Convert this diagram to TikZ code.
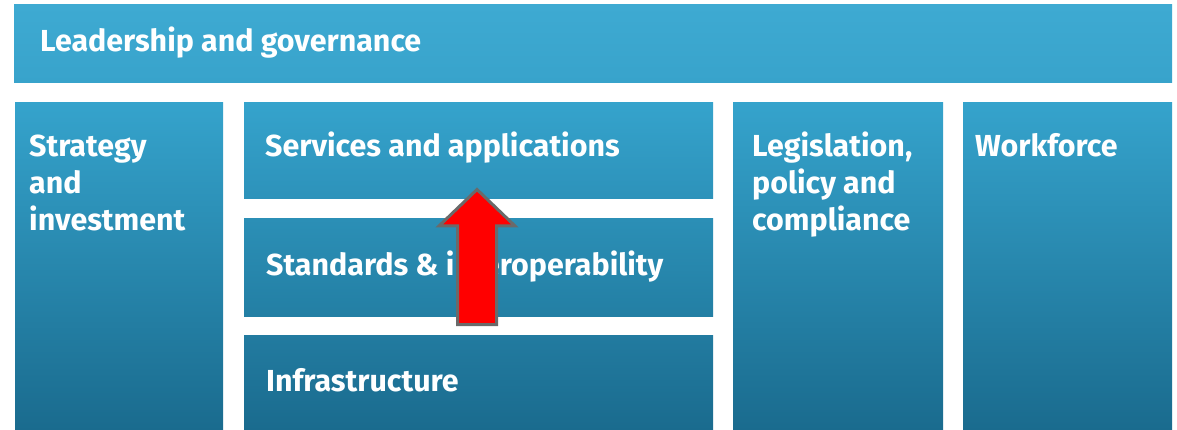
\documentclass[tikz,border=0pt]{standalone}
\usepackage{fontspec}
\setmainfont{Fira Sans}
\begin{document}
\begin{tikzpicture}[x=1pt,y=-1pt,
  box/.style={draw=none,inner sep=0pt,outer sep=0pt,anchor=north west},
  lbl/.style={text=white,font=\fontsize{30.4}{37}\selectfont\bfseries,inner sep=0pt,anchor=base west,align=left},
  arrowshape/.style={draw=arrowgray,line width=3pt,fill=red,line join=miter}]
\definecolor{arrowgray}{HTML}{6A6A6A}
\definecolor{ltop}{HTML}{3EAAD2}\definecolor{lbot}{HTML}{38A3CB}
\definecolor{ctop}{HTML}{35A3CC}\definecolor{cbot}{HTML}{1A6B8E}
\definecolor{sbot}{HTML}{2D92BA}
\definecolor{ttop}{HTML}{2B8FB6}\definecolor{tbot}{HTML}{237FA4}
\definecolor{itop}{HTML}{227BA0}
\useasboundingbox[fill=white] (0,0) rectangle (1177,430);
% boxes
\node[box,minimum width=1158pt,minimum height=78pt,top color=ltop,bottom color=lbot] (lead) at (14,5) {};
\node[box,minimum width=208pt,minimum height=327pt,top color=ctop,bottom color=cbot] (strat) at (15,103) {};
\node[box,minimum width=469pt,minimum height=96pt,top color=ctop,bottom color=sbot] (serv) at (244,103) {};
\node[box,minimum width=469pt,minimum height=97pt,top color=ttop,bottom color=tbot] (stand) at (244,219) {};
\node[box,minimum width=469pt,minimum height=95pt,top color=itop,bottom color=cbot] (infra) at (244,335) {};
\node[box,minimum width=210pt,minimum height=327pt,top color=ctop,bottom color=cbot] (legis) at (733,103) {};
\node[box,minimum width=209pt,minimum height=327pt,top color=ctop,bottom color=cbot] (work) at (963,103) {};
% labels
\node[lbl] (leadt) at (40,52) {Leadership and governance};
\node[lbl] (stratt) at (29,231) {Strategy\\and\\investment};
\node[lbl] (servt) at (265,157) {Services and applications};
\node[lbl] (standt) at (266,275) {Standards \& interoperability};
\node[lbl] (infrat) at (266,391) {Infrastructure};
\node[lbl] (legist) at (752,231) {Legislation,\\policy and\\compliance};
\node[lbl] (workt) at (975,157) {Workforce};
% arrow
\draw[arrowshape] (457.5,324.5) -- (457.5,226) -- (439,226) -- (477,189.5) -- (515,226) -- (496.5,226) -- (496.5,324.5) -- cycle;
\end{tikzpicture}
\end{document}
